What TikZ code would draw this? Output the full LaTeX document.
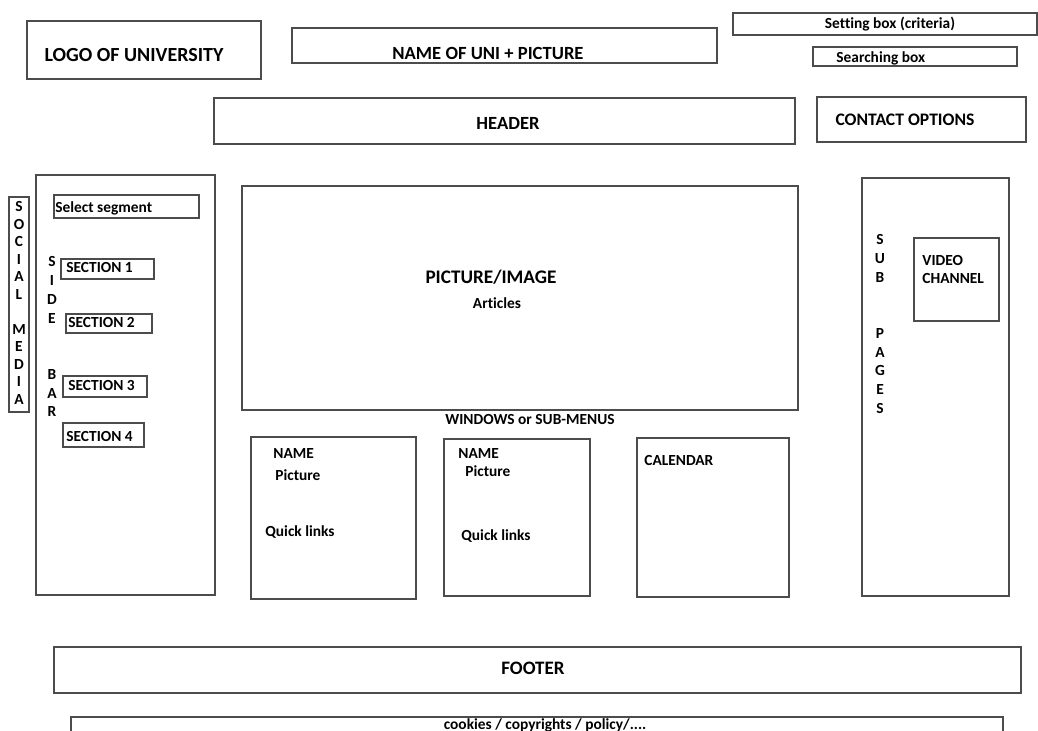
\documentclass[tikz,border=0pt]{standalone}
\usepackage{fontspec}
\setmainfont{Carlito}[Ligatures=CommonOff]
\tikzset{
  frame/.style={draw=black!70, line width=0.7pt},
  bigtxt/.style={inner sep=0pt, font=\bfseries\fontsize{9.5}{11}\selectfont},
  smalltxt/.style={inner sep=0pt, font=\bfseries\fontsize{7.7}{9}\selectfont},
}

\begin{document}
\begin{tikzpicture}[x=0.5pt,y=-0.5pt]
\useasboundingbox (0,0) rectangle (1038,731);
% top row
\draw[frame] (27,21) rectangle (261,79);
\node[bigtxt, anchor=base, font=\bfseries\fontsize{10}{12}\selectfont] (logo) at (134,62) {LOGO OF UNIVERSITY};
\draw[frame] (292,28) rectangle (717,63);
\node[bigtxt, anchor=base, font=\bfseries\fontsize{9.3}{11}\selectfont] (uniname) at (488,60) {NAME OF UNI + PICTURE};
\draw[frame] (733,13) rectangle (1037,35);
\node[smalltxt, anchor=base] (setting) at (890,29) {Setting box (criteria)};
\draw[frame] (813,47) rectangle (1017,66);
\node[smalltxt, anchor=base west] (search) at (836,63) {Searching box};
\draw[frame] (214,98) rectangle (795,144);
\node[bigtxt, anchor=base, font=\bfseries\fontsize{9.3}{11}\selectfont] (header) at (508,130) {HEADER};
\draw[frame] (817,97) rectangle (1026,142);
\node[bigtxt, anchor=base, font=\bfseries\fontsize{8.8}{10}\selectfont] (contact) at (905,126) {CONTACT OPTIONS};

% left side
\draw[frame] (9,197) rectangle (29,412);
\foreach \l [count=\i] in {S,O,C,I,A,L,{},M,E,D,I,A}
  \node[smalltxt, anchor=base] (social\i) at (19,{212+17.5*(\i-1)}) {\l};
\draw[frame] (36,175) rectangle (215,595);
\draw[frame] (54,195) rectangle (199,218);
\node[smalltxt, anchor=base west] (segment) at (55,213) {Select segment};
\foreach \l [count=\i] in {S,I,D,E,{},{},B,A,R}
  \node[smalltxt, anchor=base] (side\i) at (52,{267+18.75*(\i-1)}) {\l};
\draw[frame] (61,259) rectangle (154,279);
\node[smalltxt, anchor=base west] (sec1) at (66,273) {SECTION 1};
\draw[frame] (66,314) rectangle (152,333);
\node[smalltxt, anchor=base west] (sec2) at (68,328) {SECTION 2};
\draw[frame] (63,376) rectangle (147,397);
\node[smalltxt, anchor=base west] (sec3) at (68,391) {SECTION 3};
\draw[frame] (63,423) rectangle (144,447);
\node[smalltxt, anchor=base west] (sec4) at (66,442) {SECTION 4};

% middle
\draw[frame] (242,186) rectangle (798,410);
\node[bigtxt, anchor=base, font=\bfseries\fontsize{9.6}{11}\selectfont] (picture) at (491,284) {PICTURE/IMAGE};
\node[smalltxt, anchor=base] (articles) at (497,309) {Articles};
\node[smalltxt, anchor=base] (windows) at (530,425) {WINDOWS or SUB-MENUS};
\draw[frame] (251,437) rectangle (416,599);
\node[smalltxt, anchor=base west] (name1) at (273,459) {NAME};
\node[smalltxt, anchor=base west] (pic1) at (275,481) {Picture};
\node[smalltxt, anchor=base west] (links1) at (265,537) {Quick links};
\draw[frame] (444,439) rectangle (590,596);
\node[smalltxt, anchor=base west] (name2) at (458,459) {NAME};
\node[smalltxt, anchor=base west] (pic2) at (465,477) {Picture};
\node[smalltxt, anchor=base west] (links2) at (461,540) {Quick links};
\draw[frame] (637,438) rectangle (789,597);
\node[smalltxt, anchor=base west] (calendar) at (644,466) {CALENDAR};

% right side
\draw[frame] (862,178) rectangle (1009,596);
\foreach \l [count=\i] in {S,U,B,{},{},P,A,G,E,S}
  \node[smalltxt, anchor=base] (sub\i) at (880,{245+18.7*(\i-1)}) {\l};
\draw[frame] (914,238) rectangle (999,321);
\node[smalltxt, anchor=base west] (video) at (922,266) {VIDEO};
\node[smalltxt, anchor=base west] (channel) at (922,284) {CHANNEL};

% bottom
\draw[frame] (54,647) rectangle (1021,693);
\node[bigtxt, anchor=base] (footer) at (533,674) {FOOTER};
\draw[frame] (71,717) rectangle (1003,745);
\node[smalltxt, anchor=base] (cookies) at (545,729) {cookies / copyrights / policy/....};
\end{tikzpicture}
\end{document}
